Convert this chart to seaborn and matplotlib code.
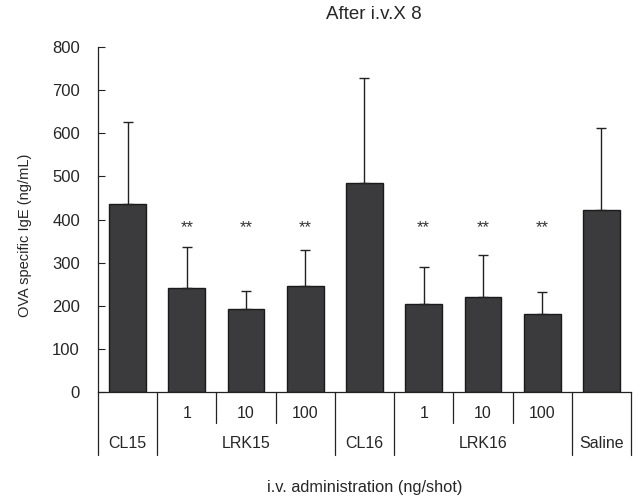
import pandas as pd
import numpy as np
import seaborn as sns
import matplotlib.pyplot as plt
from matplotlib.transforms import blended_transform_factory

# values
groups = ['CL15', 'LRK15', 'LRK15', 'LRK15', 'CL16', 'LRK16', 'LRK16', 'LRK16', 'Saline']
doses = ['', '1', '10', '100', '', '1', '10', '100', '']
ige = [435, 241, 192, 247, 485, 205, 221, 181, 422]
err = [190, 95, 43, 82, 242, 84, 96, 51, 190]
signif = ['', '**', '**', '**', '', '**', '**', '**', '']

df = pd.DataFrame({'pos': range(len(ige)), 'IgE': ige, 'err': err})

sns.set_style('white')
plt.rcParams['font.family'] = ['Liberation Sans', 'DejaVu Sans']

fig = plt.figure(figsize=(6.43, 4.98), dpi=100)
ax = fig.add_axes([0.1524, 0.2122, 0.8289, 0.694])

sns.barplot(data=df, x='pos', y='IgE', color='#3b3b3d', saturation=1,
            width=0.62, edgecolor='#1a1a1a', linewidth=1, errorbar=None, ax=ax)
ax.errorbar(df['pos'], df['IgE'], yerr=[np.zeros(len(err)), df['err']],
            fmt='none', ecolor='#222222', elinewidth=1, capsize=3.5, capthick=1)

for i, s in enumerate(signif):
    if s:
        ax.text(i, 382, s, ha='center', va='center', fontsize=12, color='#333333')

ax.set_xlim(-0.5, len(ige) - 0.5)
ax.set_ylim(0, 800)
ax.set_yticks(range(0, 801, 100))
ax.tick_params(axis='y', direction='in', length=5, width=0.8, labelsize=12,
               pad=13, left=True, color='#222222')
ax.set_xticks([])
ax.set_xlabel('')
ax.set_ylabel('OVA specific IgE (ng/mL)', fontsize=10.5)
ax.yaxis.set_label_coords(-0.124, 0.454)
sns.despine(ax=ax)
for sp in ['left', 'bottom']:
    ax.spines[sp].set_color('#222222')
    ax.spines[sp].set_linewidth(0.9)

# category table below the axis
tr = blended_transform_factory(ax.transData, ax.transAxes)
for i, d in enumerate(doses):
    if d:
        ax.text(i, -0.06, d, transform=tr, ha='center', va='center', fontsize=11.5)
n = len(groups)
for b in range(n + 1):
    x = b - 0.5
    long_line = b == 0 or b == n or groups[b - 1] != groups[b]
    y_end = -0.181 if long_line else -0.089
    ax.plot([x, x], [0, y_end], transform=tr, color='#222222', lw=0.9, clip_on=False)

start = 0
for b in range(1, n + 1):
    if b == n or groups[b] != groups[start]:
        ax.text((start + b - 1) / 2, -0.147, groups[start], transform=tr,
                ha='center', va='center', fontsize=11.5)
        start = b

ax.text(0.5, -0.274, 'i.v. administration (ng/shot)', transform=ax.transAxes,
        ha='center', va='center', fontsize=11.8)
ax.text(0.518, 1.092, 'After i.v.X 8', transform=ax.transAxes,
        ha='center', va='center', fontsize=13.5)

fig.savefig('out.png', dpi=100)
